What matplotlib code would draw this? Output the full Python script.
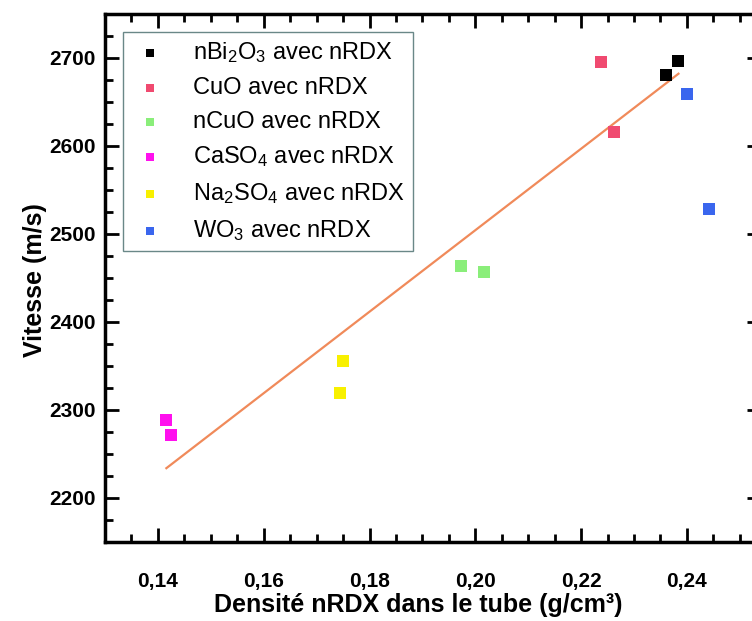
import matplotlib
matplotlib.use("Agg")
import matplotlib.pyplot as plt
import numpy as np
from matplotlib.ticker import MultipleLocator, FuncFormatter

plt.rcParams['font.family'] = ['Liberation Sans', 'DejaVu Sans']
plt.rcParams['mathtext.fontset'] = 'custom'
plt.rcParams['mathtext.rm'] = 'Liberation Sans'
plt.rcParams['mathtext.it'] = 'Liberation Sans:italic'
plt.rcParams['mathtext.bf'] = 'Liberation Sans:bold'

# density (g/cm3) and velocity (m/s) for each additive
bi2o3_x = [0.2361, 0.2384]
bi2o3_y = [2681, 2697]
cuo_x = [0.2238, 0.2262]
cuo_y = [2695, 2616]
ncuo_x = [0.1973, 0.2016]
ncuo_y = [2463, 2457]
caso4_x = [0.1416, 0.1424]
caso4_y = [2288, 2271]
na2so4_x = [0.1750, 0.1745]
na2so4_y = [2355, 2319]
wo3_x = [0.2401, 0.2442]
wo3_y = [2659, 2528]

labels = ['nBi$_\\mathregular{2}$O$_\\mathregular{3}$ avec nRDX',
          'CuO avec nRDX',
          'nCuO avec nRDX',
          'CaSO$_\\mathregular{4}$ avec nRDX',
          'Na$_\\mathregular{2}$SO$_\\mathregular{4}$ avec nRDX',
          'WO$_\\mathregular{3}$ avec nRDX']
colors = ['#000000', '#f04a70', '#8aee7a', '#ff10ee', '#f8f000', '#3a66ee']

series = [(bi2o3_x, bi2o3_y), (cuo_x, cuo_y), (ncuo_x, ncuo_y),
          (caso4_x, caso4_y), (na2so4_x, na2so4_y), (wo3_x, wo3_y)]

fig = plt.figure(figsize=(7.52, 6.21), dpi=100)
W, H = 752, 621
# axes extends past the right edge like the cropped original
ax = fig.add_axes([105 / W, (H - 541.7) / H, 656 / W, 527.7 / H])

for (sx, sy), c, lab in zip(series, colors, labels):
    ax.scatter(sx, sy, marker='s', s=70, color=c, label=lab, linewidths=0, zorder=3)

# linear fit over all but WO3
fit_x = np.array(bi2o3_x + cuo_x + ncuo_x + caso4_x + na2so4_x)
fit_y = np.array(bi2o3_y + cuo_y + ncuo_y + caso4_y + na2so4_y)
k, b = np.polyfit(fit_x, fit_y, 1)
lx = np.array([fit_x.min(), fit_x.max()])
ax.plot(lx, k * lx + b, color='#f08a5a', lw=1.6, zorder=2)

ax.set_xlim(0.13, 0.254)
ax.set_ylim(2150, 2750)
ax.xaxis.set_major_locator(MultipleLocator(0.02))
ax.xaxis.set_minor_locator(MultipleLocator(0.005))
ax.yaxis.set_major_locator(MultipleLocator(100))
ax.yaxis.set_minor_locator(MultipleLocator(25))
ax.xaxis.set_major_formatter(FuncFormatter(lambda v, p: f'{v:.2f}'.replace('.', ',')))

ax.tick_params(which='both', direction='in', top=True, right=True, width=2)
ax.tick_params(which='major', length=10)
ax.tick_params(which='minor', length=6)
ax.tick_params(axis='x', pad=22, labelsize=15)
ax.tick_params(axis='y', pad=7, labelsize=15)
for t in ax.get_xticklabels() + ax.get_yticklabels():
    t.set_fontweight('bold')
for s in ax.spines.values():
    s.set_linewidth(2.5)

ax.set_xlabel('Densité nRDX dans le tube (g/cm³)', fontsize=18, fontweight='bold')
ax.xaxis.set_label_coords(0.477, -0.098)
ax.set_ylabel('Vitesse (m/s)', fontsize=18, fontweight='bold')
ax.yaxis.set_label_coords(-0.088, 0.496)

leg = ax.legend(loc='upper left', bbox_to_anchor=(0.0274, 0.966), borderaxespad=0,
                fontsize=17, frameon=True, fancybox=False, framealpha=1,
                edgecolor='#6a8888', markerscale=0.75, handlelength=1.6,
                handletextpad=1.0, labelspacing=0.5, borderpad=0.35)
leg.get_frame().set_linewidth(1.0)

fig.savefig('out.png', dpi=100)
